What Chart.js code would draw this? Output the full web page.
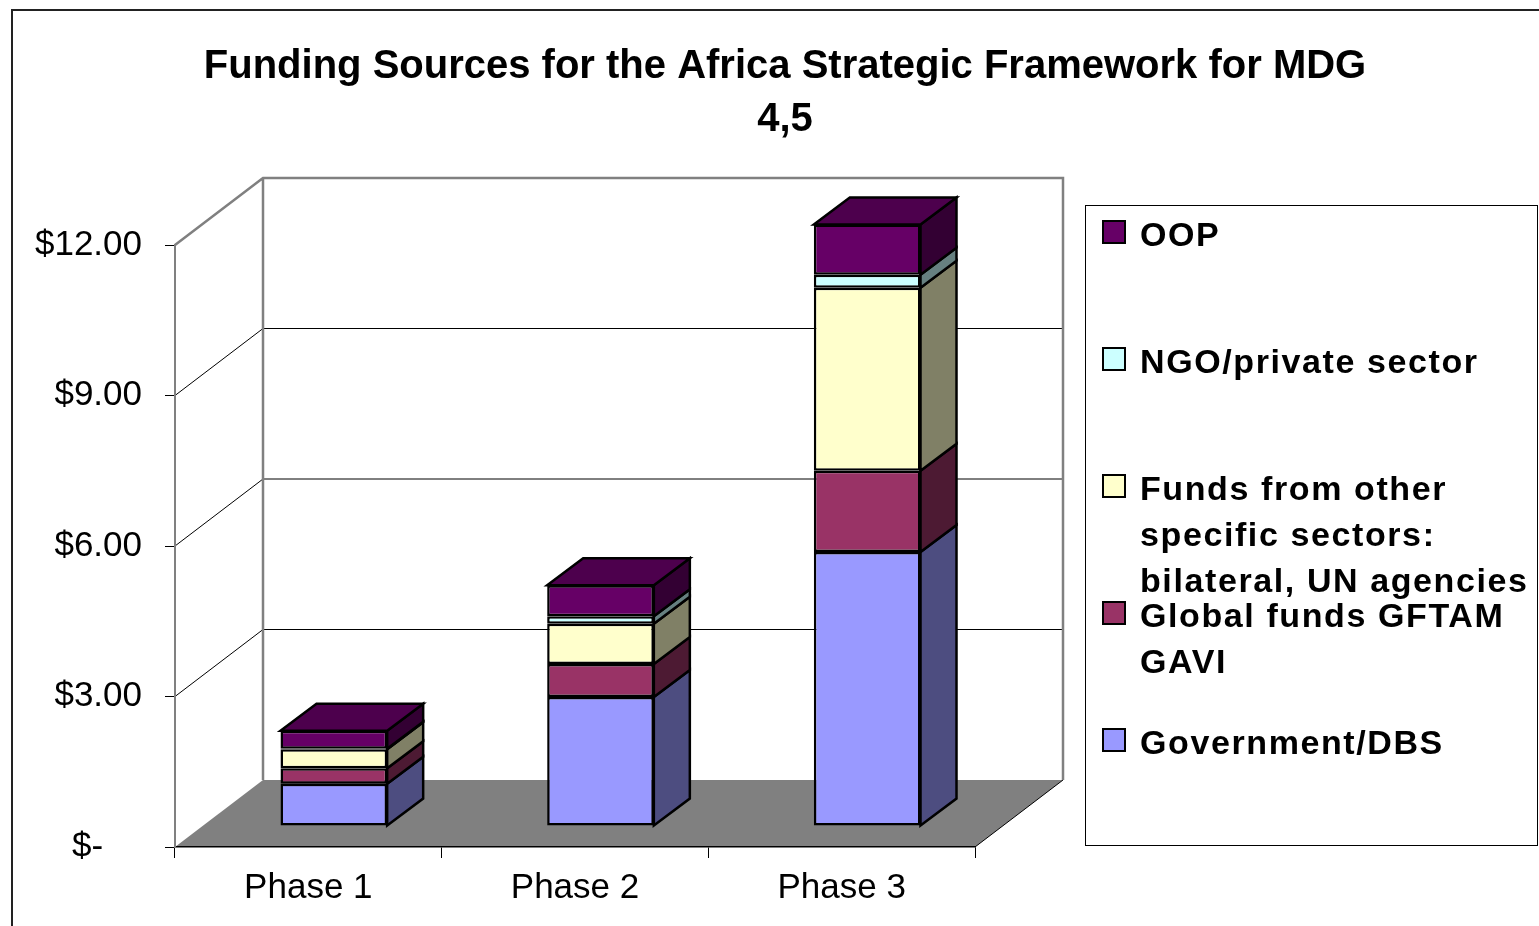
<!DOCTYPE html>
<html>
<head>
<meta charset="utf-8">
<title>Funding Sources for the Africa Strategic Framework for MDG 4,5</title>
<script src="https://cdn.jsdelivr.net/npm/chart.js@4.4.0/dist/chart.umd.min.js"></script>
<style>
  html, body { margin: 0; padding: 0; background: #fff; }
  canvas { display: block; }
</style>
</head>
<body>
<canvas id="myChart" width="1539" height="926"></canvas>
<script>
// data (US$)
var phases = ['Phase 1', 'Phase 2', 'Phase 3'];
var government = [0.84, 2.57, 5.46];
var globalFunds = [0.31, 0.66, 1.62];
var otherSectors = [0.38, 0.80, 3.65];
var ngoPrivate = [0.01, 0.15, 0.26];
var oop = [0.36, 0.62, 1.00];

var seriesNames = ['Government/DBS', 'Global funds GFTAM GAVI',
    'Funds from other specific sectors: bilateral, UN agencies', 'NGO/private sector', 'OOP'];
var legendLines = [['Government/DBS'], ['Global funds GFTAM', 'GAVI'],
    ['Funds from other', 'specific sectors:', 'bilateral, UN agencies'], ['NGO/private sector'], ['OOP']];
var yTickLabels = ['$-    ', '$3.00', '$6.00', '$9.00', '$12.00'];

var colors = ['#9999FF', '#993366', '#FFFFCC', '#CCFFFF', '#660066'];
var FONT = '"Liberation Sans", Arial, Helvetica, sans-serif';

// 3d look
var WALL_DX = 88, WALL_DY = -67;     // front plane -> back wall
var BAR_DX = 25.5, BAR_DY = -21;     // front plane -> front face of bars
var DEPTH_DX = 36, DEPTH_DY = -27;   // bar depth

function shade(hex, f) {
    var n = parseInt(hex.slice(1), 16);
    var r = Math.round(((n >> 16) & 255) * f);
    var g = Math.round(((n >> 8) & 255) * f);
    var b = Math.round((n & 255) * f);
    return 'rgb(' + r + ',' + g + ',' + b + ')';
}

var depthPlugin = {
    id: 'depth3d',
    beforeDraw: function(chart) {
        var ctx = chart.ctx;
        var a = chart.chartArea;
        var ys = chart.scales.y;
        var y0 = ys.getPixelForValue(0);
        var yTop = ys.getPixelForValue(ys.max);

        ctx.save();
        ctx.fillStyle = '#fff';
        ctx.fillRect(0, 0, chart.width, chart.height);

        // outer frame (runs off the right and bottom edge)
        ctx.strokeStyle = '#222';
        ctx.lineWidth = 2;
        ctx.strokeRect(12, 10, chart.width + 20, chart.height + 20);

        // floor
        ctx.fillStyle = '#808080';
        ctx.beginPath();
        ctx.moveTo(a.left, y0);
        ctx.lineTo(a.right, y0);
        ctx.lineTo(a.right + WALL_DX, y0 + WALL_DY);
        ctx.lineTo(a.left + WALL_DX, y0 + WALL_DY);
        ctx.closePath();
        ctx.fill();
        ctx.strokeStyle = '#000';
        ctx.lineWidth = 1;
        ctx.beginPath();
        ctx.moveTo(a.right, y0);
        ctx.lineTo(a.right + WALL_DX, y0 + WALL_DY);
        ctx.stroke();

        // gridlines on side wall and back wall
        ys.ticks.forEach(function(t) {
            if (t.value === 0 || t.value === ys.max) return;
            var py = ys.getPixelForValue(t.value);
            ctx.beginPath();
            ctx.moveTo(a.left, py);
            ctx.lineTo(a.left + WALL_DX, py + WALL_DY);
            ctx.lineTo(a.right + WALL_DX, py + WALL_DY);
            ctx.stroke();
        });

        // wall edges
        ctx.strokeStyle = '#808080';
        ctx.lineWidth = 2.5;
        ctx.beginPath();
        ctx.moveTo(a.left, yTop);
        ctx.lineTo(a.left + WALL_DX, yTop + WALL_DY);
        ctx.lineTo(a.right + WALL_DX, yTop + WALL_DY);
        ctx.lineTo(a.right + WALL_DX, y0 + WALL_DY);
        ctx.moveTo(a.left + WALL_DX, yTop + WALL_DY);
        ctx.lineTo(a.left + WALL_DX, y0 + WALL_DY);
        ctx.stroke();
        ctx.restore();
    },
    beforeDatasetsDraw: function(chart) {
        chart.ctx.save();
        chart.ctx.translate(BAR_DX, BAR_DY);
    },
    afterDatasetsDraw: function(chart) {
        var ctx = chart.ctx;
        var n = chart.data.datasets.length;
        ctx.lineWidth = 2.5;
        ctx.strokeStyle = '#000';
        ctx.lineJoin = 'miter';
        for (var d = 0; d < n; d++) {
            var meta = chart.getDatasetMeta(d);
            meta.data.forEach(function(el, i) {
                var p = el.getProps(['x', 'y', 'base', 'width'], true);
                var l = p.x - p.width / 2, r = p.x + p.width / 2;
                // side face
                ctx.fillStyle = shade(colors[d], 0.5);
                ctx.beginPath();
                ctx.moveTo(r, p.y);
                ctx.lineTo(r + DEPTH_DX, p.y + DEPTH_DY);
                ctx.lineTo(r + DEPTH_DX, p.base + DEPTH_DY);
                ctx.lineTo(r, p.base);
                ctx.closePath();
                ctx.fill();
                ctx.stroke();
                // top face on the last segment
                if (d === n - 1) {
                    ctx.fillStyle = shade(colors[d], 0.75);
                    ctx.beginPath();
                    ctx.moveTo(l, p.y);
                    ctx.lineTo(l + DEPTH_DX, p.y + DEPTH_DY);
                    ctx.lineTo(r + DEPTH_DX, p.y + DEPTH_DY);
                    ctx.lineTo(r, p.y);
                    ctx.closePath();
                    ctx.fill();
                    ctx.stroke();
                }
            });
        }
        ctx.restore();
    },
    afterDraw: function(chart) {
        // legend box on the right
        var ctx = chart.ctx;
        ctx.save();
        ctx.strokeStyle = '#000';
        ctx.lineWidth = 1;
        ctx.strokeRect(1085.5, 205.5, 452, 640);
        ctx.font = 'bold 34px ' + FONT;
        ctx.letterSpacing = '1.6px';
        ctx.textAlign = 'left';
        ctx.textBaseline = 'alphabetic';
        var n = chart.data.datasets.length;
        for (var i = 0; i < n; i++) {
            var k = n - 1 - i;
            var cy = 232 + i * 127;
            ctx.fillStyle = colors[k];
            ctx.fillRect(1103, cy - 11, 22, 22);
            ctx.lineWidth = 2;
            ctx.strokeRect(1103, cy - 11, 22, 22);
            ctx.fillStyle = '#000';
            legendLines[k].forEach(function(line, j) {
                ctx.fillText(line, 1140, cy + 14 + j * 46);
            });
        }
        ctx.restore();
    }
};

var seriesData = [government, globalFunds, otherSectors, ngoPrivate, oop];
var datasets = seriesData.map(function(values, i) {
    return {
        label: seriesNames[i],
        data: values,
        backgroundColor: colors[i],
        borderColor: '#000',
        borderWidth: 2.5,
        borderSkipped: false,
        clip: false
    };
});

var ctx = document.getElementById('myChart').getContext('2d');
var myChart = new Chart(ctx, {
    type: 'bar',
    data: { labels: phases, datasets: datasets },
    options: {
        responsive: false,
        animation: false,
        devicePixelRatio: 1,
        datasets: { bar: { barPercentage: 0.4, categoryPercentage: 1 } },
        layout: { padding: { left: 31, right: 0, top: 0, bottom: 0 } },
        plugins: {
            legend: { display: false },
            tooltip: { enabled: false },
            title: {
                display: true,
                text: ['Funding Sources for the Africa Strategic Framework for MDG', '4,5'],
                color: '#000',
                font: { family: FONT, size: 40, weight: 'bold', lineHeight: 1.325 },
                padding: { top: 40.5, bottom: 98.5 }
            }
        },
        scales: {
            x: {
                stacked: true,
                grid: { display: true, drawOnChartArea: false, drawTicks: true, tickLength: 11, color: '#000', lineWidth: 1 },
                border: { display: true, color: '#000', width: 1.5 },
                ticks: { color: '#000', font: { family: FONT, size: 35 }, padding: 9 },
                afterFit: function(s) { s.height = 79; }
            },
            y: {
                stacked: true,
                min: 0,
                max: 12,
                grid: { display: true, drawOnChartArea: false, drawTicks: true, tickLength: 10, color: '#000', lineWidth: 1 },
                border: { display: true, color: '#808080', width: 2 },
                ticks: {
                    stepSize: 3,
                    color: '#000',
                    padding: 23,
                    font: { family: FONT, size: 35 },
                    callback: function(value, index) { return yTickLabels[index]; }
                },
                afterFit: function(s) { s.width = 144; }
            },
            yRight: {
                position: 'right',
                display: true,
                grid: { display: false },
                border: { display: false },
                ticks: { display: false },
                afterFit: function(s) { s.width = 564; }
            }
        }
    },
    plugins: [depthPlugin]
});
</script>
</body>
</html>
